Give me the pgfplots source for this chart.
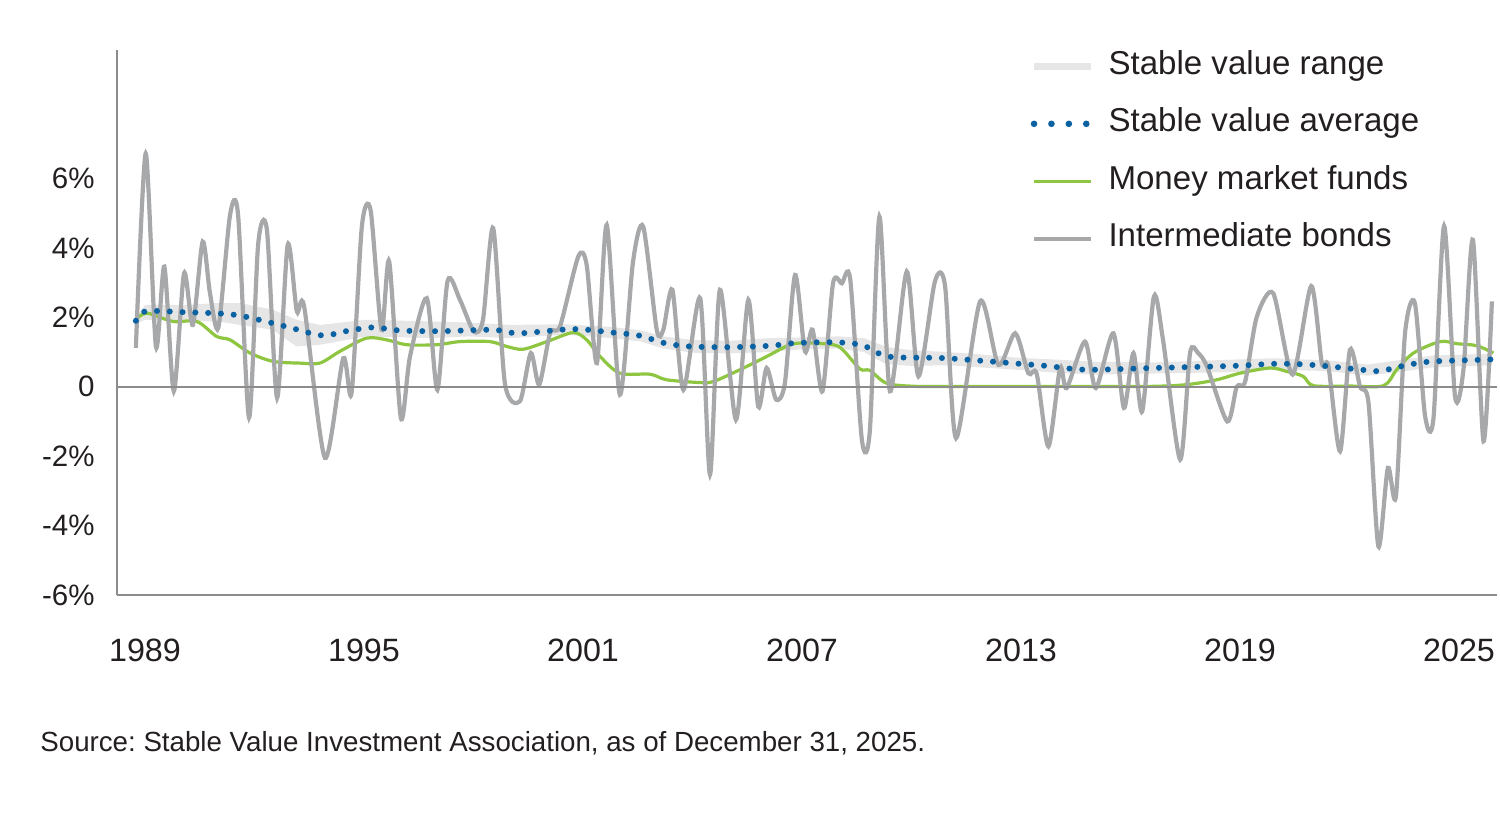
\documentclass[border=0pt]{standalone}
\usepackage{pgfplots}
\pgfplotsset{compat=1.18}
\usepackage{fontspec}
\setmainfont{Liberation Sans}
\frenchspacing
\definecolor{bondgray}{HTML}{A7A8AA}
\definecolor{bandgray}{HTML}{E6E6E6}
\definecolor{svblue}{HTML}{0A62A3}
\definecolor{mmgreen}{HTML}{8FC641}
\definecolor{axisgray}{HTML}{8C8C8C}
\definecolor{textblack}{HTML}{231F20}
\begin{document}
\begin{tikzpicture}
\useasboundingbox (-58.5bp,-113.5bp) rectangle (691.5bp,297.5bp);
\begin{axis}[
  at={(0,0)}, anchor=south west,
  scale only axis, width=690bp, height=272.5bp,
  xmin=1988.233, xmax=2026.04, ymin=-6, ymax=9.7,
  axis x line*=bottom, axis y line*=left,
  axis line style={-, draw=axisgray, line width=1bp},
  xtick={1989,1995,2001,2007,2013,2019,2025},
  xticklabels={1989,1995,2001,2007,2013,2019,2025},
  ytick={-6,-4,-2,0,2,4,6},
  yticklabels={-6\%,-4\%,-2\%,0,2\%,4\%,6\%},
  major tick length=0pt,
  xticklabel style={font=\fontsize{16.2}{19}\selectfont, text=textblack, inner sep=0pt, anchor=north, yshift=-22bp},
  yticklabel style={font=\fontsize{14.8}{17}\selectfont, text=textblack, inner sep=0pt, anchor=east, xshift=-11bp},
  legend image code/.code={\draw[#1] (0bp,0bp) -- (28.5bp,0bp);},
  legend cell align=left,
  legend style={draw=none, fill=none, at={(0.6617,1.0)}, anchor=north west, inner sep=0pt,
    font=\fontsize{16.6}{20}\selectfont, text=textblack, row sep=12.7bp,
    nodes={inner sep=0pt, text height=12bp, text depth=4bp},
    /tikz/every odd column/.append style={column sep=7bp}},
]
\addlegendimage{draw=bandgray, line width=3.5bp}
\addlegendentry{Stable value range}
\addlegendimage{draw=svblue, line width=3.3bp, line cap=round, dash pattern=on 0bp off 8.7bp}
\addlegendentry{Stable value average}
\addlegendimage{draw=mmgreen, line width=1.6bp}
\addlegendentry{Money market funds}
\addlegendimage{draw=bondgray, line width=2bp}
\addlegendentry{Intermediate bonds}

% stable value range (upper then lower reversed)
\addplot[fill=bandgray, draw=none, forget plot] coordinates {
(1988.75,2.00) (1989.00,2.36) (1990.00,2.35) (1991.00,2.41) (1991.60,2.41) (1992.50,2.22)
(1993.15,1.93) (1993.80,1.78) (1995.05,1.93) (1996.85,1.88) (1997.85,1.85) (1999.00,1.78)
(2000.50,1.80) (2001.80,1.72) (2002.60,1.62) (2003.20,1.45) (2004.00,1.35) (2005.00,1.32)
(2006.10,1.40) (2007.00,1.42) (2008.00,1.45) (2008.70,1.40) (2009.30,1.15) (2010.00,1.05)
(2011.00,1.00) (2012.00,0.92) (2013.00,0.83) (2014.00,0.78) (2015.00,0.72) (2016.60,0.70)
(2018.80,0.78) (2019.90,0.82) (2021.40,0.76) (2022.50,0.64) (2023.60,0.80) (2024.30,0.90)
(2025.90,0.95)
(2025.90,0.62) (2024.30,0.56) (2023.60,0.46) (2022.50,0.32) (2021.40,0.45) (2019.90,0.50)
(2018.80,0.42) (2016.60,0.38) (2015.00,0.35) (2014.00,0.40) (2013.00,0.48) (2012.00,0.55)
(2011.00,0.62) (2010.00,0.60) (2009.30,0.65) (2008.70,1.00) (2008.00,1.10) (2007.00,1.08)
(2006.10,1.00) (2005.00,0.96) (2004.00,0.98) (2003.20,1.10) (2002.60,1.30) (2001.80,1.40)
(2000.50,1.50) (1999.00,1.40) (1997.85,1.45) (1996.85,1.40) (1995.05,1.45) (1993.80,1.21)
(1993.15,1.16) (1992.50,1.64) (1991.60,1.78) (1991.00,1.88) (1990.00,1.90) (1989.00,1.93)
(1988.75,1.80)
} -- cycle;

% money market funds
\addplot[mmgreen, line width=1.6bp, smooth, forget plot] coordinates {
(1988.75,1.93) (1989.05,2.12) (1989.77,1.88) (1990.42,1.88) (1990.96,1.45) (1991.33,1.35)
(1991.88,0.97) (1992.51,0.73) (1993.25,0.68) (1993.79,0.68) (1994.34,1.02) (1995.07,1.40)
(1995.62,1.35) (1996.17,1.21) (1996.99,1.21) (1997.63,1.30) (1998.45,1.30) (1998.91,1.16)
(1999.36,1.08) (2000.01,1.30) (2000.73,1.56) (2001.10,1.35) (2001.47,0.87) (2002.01,0.39)
(2002.84,0.36) (2003.29,0.20) (2004.21,0.12) (2004.57,0.15) (2005.30,0.49) (2006.03,0.87)
(2006.67,1.21) (2007.13,1.26) (2007.85,1.21) (2008.12,1.06) (2008.59,0.51) (2008.86,0.47)
(2009.32,0.10) (2010.14,0.01) (2011.50,0.01) (2013.00,0.01) (2014.50,0.01) (2016.53,0.01)
(2017.54,0.06) (2018.36,0.20) (2019.00,0.39) (2019.82,0.54) (2020.28,0.44) (2020.73,0.30)
(2021.01,0.03) (2022.00,0.02) (2022.93,0.03) (2023.29,0.49) (2023.75,0.97) (2024.48,1.30)
(2024.94,1.24) (2025.49,1.18) (2025.94,0.97)
};

% intermediate bonds
\addplot[bondgray, line width=2.1bp, smooth, tension=0.45, forget plot] coordinates {
(1988.75,1.12) (1989.02,6.72) (1989.30,1.16) (1989.53,3.46) (1989.79,-0.13) (1990.07,3.27)
(1990.31,1.78) (1990.58,4.18) (1990.78,2.70) (1991.01,1.70) (1991.33,4.95) (1991.55,4.95)
(1991.85,-0.89) (1992.10,4.10) (1992.34,4.52) (1992.62,-0.32) (1992.91,4.09) (1993.16,2.17)
(1993.36,2.31) (1993.93,-2.05) (1994.43,0.82) (1994.66,-0.18) (1994.94,4.60) (1995.18,5.09)
(1995.48,1.64) (1995.69,3.61) (1996.01,-0.90) (1996.26,0.87) (1996.72,2.55) (1997.01,-0.09)
(1997.29,3.05) (1997.63,2.50) (1998.01,1.59) (1998.26,1.93) (1998.54,4.57) (1998.86,0.10)
(1999.27,-0.42) (1999.57,0.97) (1999.80,0.06) (2000.10,1.55) (2000.37,1.74) (2000.87,3.75)
(2001.10,3.51) (2001.38,0.68) (2001.65,4.66) (2002.01,-0.23) (2002.37,3.60) (2002.65,4.61)
(2003.02,1.64) (2003.20,1.64) (2003.45,2.79) (2003.75,-0.09) (2004.21,2.55) (2004.48,-2.53)
(2004.75,2.79) (2005.19,-0.95) (2005.53,2.50) (2005.80,-0.57) (2006.03,0.54) (2006.29,-0.37)
(2006.53,0.10) (2006.81,3.22) (2007.08,1.02) (2007.29,1.64) (2007.56,-0.13) (2007.85,2.98)
(2008.09,2.98) (2008.32,3.10) (2008.64,-1.53) (2008.86,-1.24) (2009.12,4.90) (2009.41,-0.13)
(2009.87,3.32) (2010.19,0.30) (2010.64,3.03) (2010.92,2.89) (2011.22,-1.48) (2011.88,2.46)
(2012.38,0.63) (2012.84,1.54) (2013.20,0.39) (2013.43,0.37) (2013.75,-1.72) (2014.07,0.54)
(2014.25,-0.04) (2014.75,1.30) (2015.05,-0.04) (2015.53,1.54) (2015.82,-0.61) (2016.08,0.97)
(2016.32,-0.71) (2016.64,2.60) (2016.89,1.35) (2017.36,-2.10) (2017.63,0.97) (2017.85,0.97)
(2018.09,0.59) (2018.65,-1.00) (2018.91,0.00) (2019.14,0.15) (2019.46,2.02) (2019.91,2.69)
(2020.44,0.35) (2020.95,2.90) (2021.24,0.68) (2021.42,0.59) (2021.74,-1.86) (2022.01,1.06)
(2022.29,0.00) (2022.52,-0.47) (2022.79,-4.60) (2023.05,-2.34) (2023.27,-3.16) (2023.52,1.54)
(2023.79,2.41) (2024.07,-0.85) (2024.30,-0.90) (2024.59,4.63) (2024.89,-0.28) (2025.12,0.49)
(2025.38,4.23) (2025.67,-1.57) (2025.90,2.46)
};

% stable value average
\addplot[svblue, line width=3bp, line cap=round, dash pattern=on 0bp off 6.4bp, smooth, forget plot] coordinates {
(1988.75,1.90) (1989.00,2.17) (1990.01,2.15) (1991.47,2.07) (1992.84,1.74) (1993.84,1.48)
(1994.56,1.61) (1995.25,1.71) (1995.99,1.62) (1997.10,1.60) (1998.53,1.64) (1999.25,1.54)
(2000.73,1.66) (2001.82,1.56) (2002.56,1.47) (2003.22,1.26) (2003.93,1.16) (2005.03,1.14)
(2006.12,1.18) (2006.85,1.26) (2007.95,1.28) (2008.67,1.19) (2009.36,0.87) (2010.78,0.83)
(2011.88,0.75) (2012.97,0.66) (2013.70,0.60) (2014.80,0.49) (2016.62,0.54) (2018.81,0.60)
(2019.90,0.66) (2020.64,0.65) (2021.41,0.59) (2022.51,0.47) (2022.88,0.46) (2023.60,0.63)
(2024.29,0.73) (2025.76,0.78) (2025.90,0.80)
};

\draw[axisgray, line width=1bp] (axis cs:1988.233,0) -- (axis cs:2026.04,0);
\end{axis}
\node[anchor=base west, inner sep=0pt, font=\fontsize{13.9}{16}\selectfont, text=textblack] at (-38.5bp,-78bp) {Source: Stable Value Investment Association, as of December 31, 2025.};
\end{tikzpicture}
\end{document}
